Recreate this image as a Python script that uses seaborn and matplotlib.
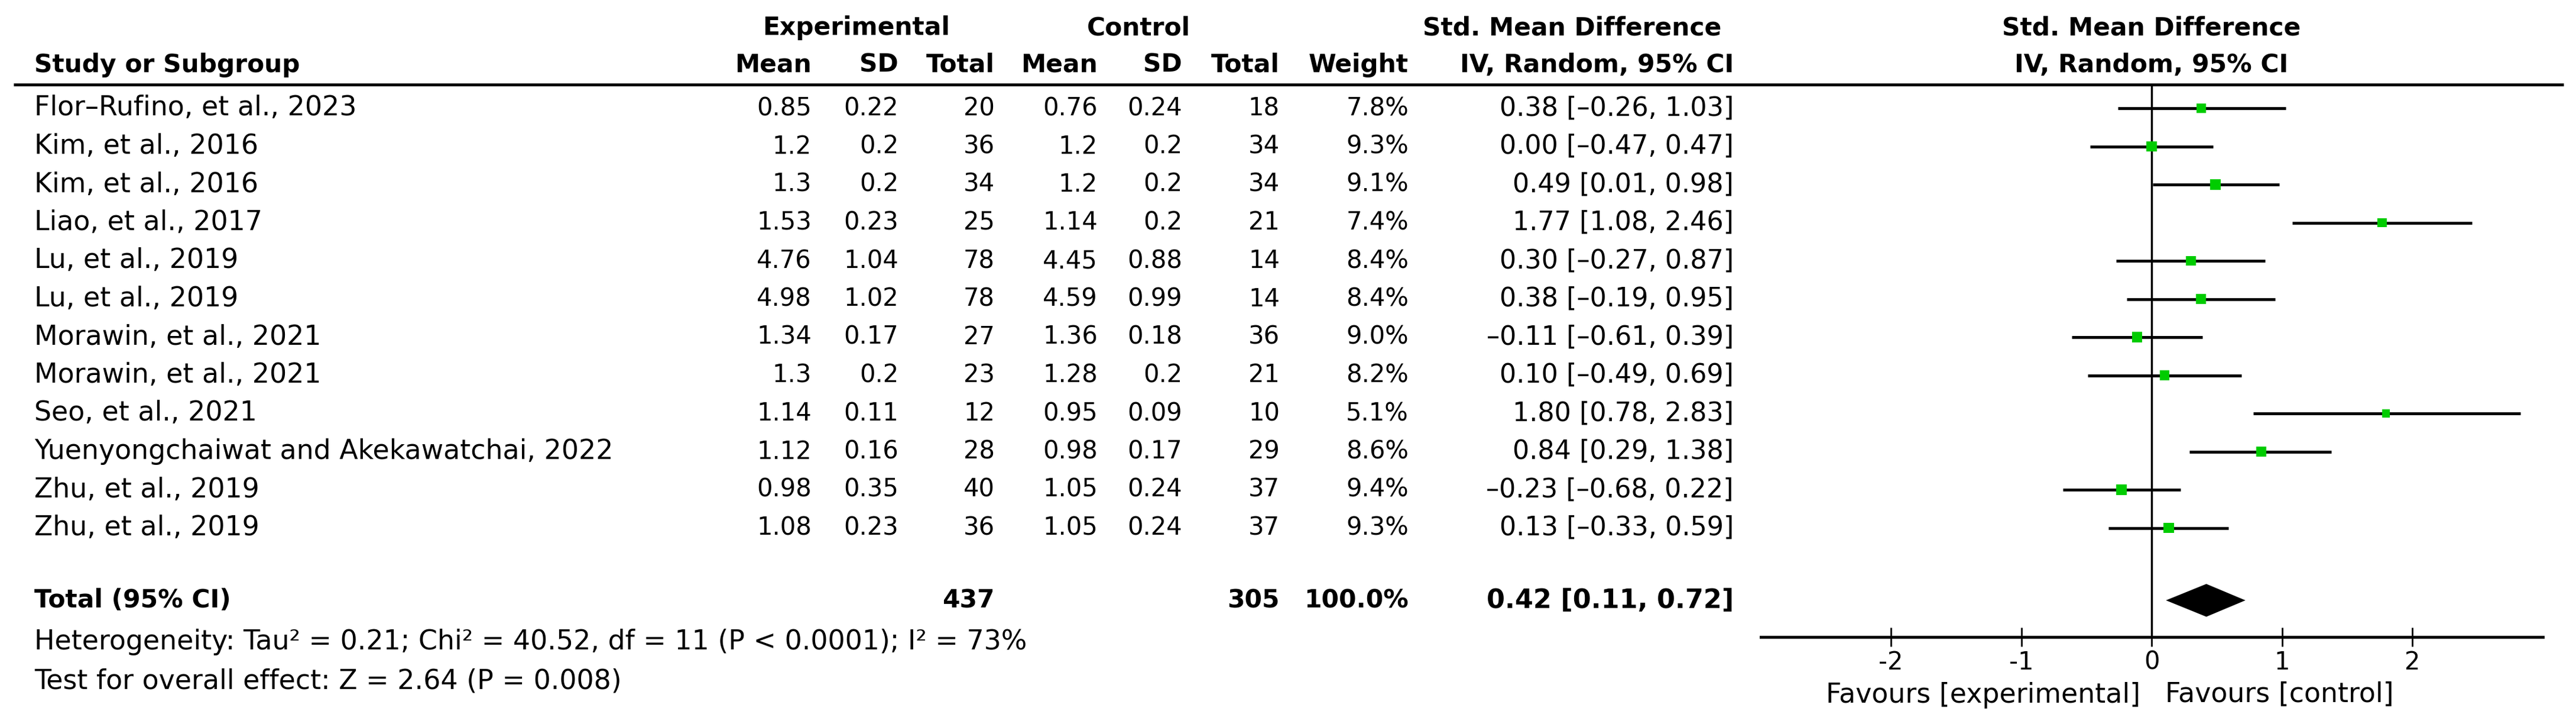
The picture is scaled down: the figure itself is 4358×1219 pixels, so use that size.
import matplotlib
matplotlib.use('Agg')
import matplotlib.pyplot as plt
import matplotlib.transforms as mtransforms
from matplotlib.lines import Line2D
import numpy as np
import pandas as pd
import seaborn as sns

# study rows
studies = ["Flor–Rufino, et al., 2023", "Kim, et al., 2016", "Kim, et al., 2016",
           "Liao, et al., 2017", "Lu, et al., 2019", "Lu, et al., 2019",
           "Morawin, et al., 2021", "Morawin, et al., 2021", "Seo, et al., 2021",
           "Yuenyongchaiwat and Akekawatchai, 2022", "Zhu, et al., 2019", "Zhu, et al., 2019"]
exp_mean = [0.85, 1.2, 1.3, 1.53, 4.76, 4.98, 1.34, 1.3, 1.14, 1.12, 0.98, 1.08]
exp_sd = [0.22, 0.2, 0.2, 0.23, 1.04, 1.02, 0.17, 0.2, 0.11, 0.16, 0.35, 0.23]
exp_n = [20, 36, 34, 25, 78, 78, 27, 23, 12, 28, 40, 36]
ctl_mean = [0.76, 1.2, 1.2, 1.14, 4.45, 4.59, 1.36, 1.28, 0.95, 0.98, 1.05, 1.05]
ctl_sd = [0.24, 0.2, 0.2, 0.2, 0.88, 0.99, 0.18, 0.2, 0.09, 0.17, 0.24, 0.24]
ctl_n = [18, 34, 34, 21, 14, 14, 36, 21, 10, 29, 37, 37]
weight = [7.8, 9.3, 9.1, 7.4, 8.4, 8.4, 9.0, 8.2, 5.1, 8.6, 9.4, 9.3]
smd = [0.38, 0.00, 0.49, 1.77, 0.30, 0.38, -0.11, 0.10, 1.80, 0.84, -0.23, 0.13]
ci_lo = [-0.26, -0.47, 0.01, 1.08, -0.27, -0.19, -0.61, -0.49, 0.78, 0.29, -0.68, -0.33]
ci_hi = [1.03, 0.47, 0.98, 2.46, 0.87, 0.95, 0.39, 0.69, 2.83, 1.38, 0.22, 0.59]

# pooled result
total_exp_n = 437
total_ctl_n = 305
total_weight = 100.0
total_smd = 0.42
total_lo = 0.11
total_hi = 0.72

heterogeneity = "Heterogeneity: Tau² = 0.21; Chi² = 40.52, df = 11 (P < 0.0001); I² = 73%"
overall = "Test for overall effect: Z = 2.64 (P = 0.008)"
ticks = [-2, -1, 0, 1, 2]

sns.set_theme(style='white')
plt.rcParams['font.family'] = ['DejaVu Sans']
plt.rcParams['axes.unicode_minus'] = False
plt.rcParams['text.color'] = 'black'

FS_TXT = 33    # study names and footnotes
FS_NUM = 30    # numeric columns
FS_CI = 32     # estimate [lo, hi]
FS_B = 30.5    # bold headers
W, H = 4358, 1219
ROW0, STEP = 183, 64.5


def row(px):
    return (px - ROW0) / STEP


def fmt(v):
    return f"{v:.2f}".replace('-', '–')


fig = plt.figure(figsize=(W / 100, H / 100), dpi=100)
ylim = (row(H), row(0))

# table part, x in pixels
split = 2950
ax_t = fig.add_axes([0, 0, split / W, 1])
ax_t.set_xlim(0, split)
ax_t.set_ylim(*ylim)
ax_t.axis('off')

# forest part, x in effect size units
zero_px, unit_px = 3640, 220.5
ax_f = fig.add_axes([split / W, 0, 1 - split / W, 1])
ax_f.patch.set_alpha(0)

# column right edges
c_name = 58
c_em, c_esd, c_en = 1373, 1520, 1683
c_cm, c_csd, c_cn = 1857, 2000, 2165
c_w, c_ci = 2383, 2933

hdr1, hdr2 = row(47), row(110)
bold = dict(fontsize=FS_B, fontweight='bold', va='center', color='black')
ax_t.text(1449, hdr1, "Experimental", ha='center', **bold)
ax_t.text(1926, hdr1, "Control", ha='center', **bold)
ax_t.text(2660, hdr1, "Std. Mean Difference", ha='center', **bold)
ax_t.text(c_name, hdr2, "Study or Subgroup", ha='left', **bold)
for x, lab in [(c_em, "Mean"), (c_esd, "SD"), (c_en, "Total"), (c_cm, "Mean"),
               (c_csd, "SD"), (c_cn, "Total"), (c_w, "Weight"), (c_ci, "IV, Random, 95% CI")]:
    ax_t.text(x, hdr2, lab, ha='right', **bold)

txt = dict(fontsize=FS_TXT, va='center', color='black')
num = dict(fontsize=FS_NUM, va='center', ha='right', color='black')
for i in range(len(studies)):
    ax_t.text(c_name, i, studies[i], ha='left', **txt)
    ax_t.text(c_em, i, f"{exp_mean[i]:g}", **num)
    ax_t.text(c_esd, i, f"{exp_sd[i]:g}", **num)
    ax_t.text(c_en, i, f"{exp_n[i]}", **num)
    ax_t.text(c_cm, i, f"{ctl_mean[i]:g}", **num)
    ax_t.text(c_csd, i, f"{ctl_sd[i]:g}", **num)
    ax_t.text(c_cn, i, f"{ctl_n[i]}", **num)
    ax_t.text(c_w, i, f"{weight[i]:.1f}%", **num)
    ax_t.text(c_ci, i, f"{fmt(smd[i])} [{fmt(ci_lo[i])}, {fmt(ci_hi[i])}]",
              fontsize=FS_CI, va='center', ha='right', color='black')

y_tot = row(1015)
ax_t.text(c_name, y_tot, "Total (95% CI)", ha='left', **bold)
ax_t.text(c_en, y_tot, f"{total_exp_n}", ha='right', **bold)
ax_t.text(c_cn, y_tot, f"{total_ctl_n}", ha='right', **bold)
ax_t.text(c_w, y_tot, f"{total_weight:.1f}%", ha='right', **bold)
ax_t.text(c_ci, y_tot, f"{fmt(total_smd)} [{fmt(total_lo)}, {fmt(total_hi)}]",
          ha='right', **dict(bold, fontsize=FS_CI))
ax_t.text(c_name, row(1085), heterogeneity, ha='left', **txt)
ax_t.text(c_name, row(1152), overall, ha='left', **txt)

# rule under the header, across the whole figure
trans = mtransforms.blended_transform_factory(fig.transFigure, ax_t.transData)
fig.add_artist(Line2D([23 / W, 4337 / W], [row(143), row(143)], transform=trans,
                      color='black', lw=3.6, solid_capstyle='butt'))

# forest plot
df = pd.DataFrame({'smd': smd, 'lo': ci_lo, 'hi': ci_hi, 'weight': weight,
                   'row': np.arange(len(studies))})
y_axis = row(1077)
ax_f.vlines(0, row(143), y_axis, color='black', lw=2.5, zorder=1)
ax_f.hlines(df['row'], df['lo'], df['hi'], color='black', lw=3.5, zorder=2)
sns.scatterplot(data=df, x='smd', y='row', size='weight', sizes=(17.5 * 5.1, 17.5 * 9.4),
                size_norm=(5.1, 9.4), marker='s', color='#00cc00', linewidth=0,
                legend=False, zorder=3, ax=ax_f)
dh = 0.43
ax_f.fill([total_lo, total_smd, total_hi, total_smd],
          [y_tot, y_tot - dh, y_tot, y_tot + dh], color='black', lw=0, zorder=3)

ax_f.set_xlim((split - zero_px) / unit_px, (W - zero_px) / unit_px)
ax_f.set_ylim(*ylim)
ax_f.set_xlabel('')
ax_f.set_ylabel('')
ax_f.set_yticks([])
ax_f.set_xticks(ticks)
ax_f.set_xticklabels([str(t) for t in ticks])
for s in ['top', 'right', 'left']:
    ax_f.spines[s].set_visible(False)
ax_f.spines['bottom'].set_position(('data', y_axis))
ax_f.spines['bottom'].set_bounds(-3, 3)
ax_f.spines['bottom'].set_linewidth(3.6)
ax_f.spines['bottom'].set_color('black')
ax_f.tick_params(axis='x', bottom=True, direction='inout', length=23, width=2.0,
                 colors='black', labelsize=FS_NUM, pad=4)

ax_f.text(0, hdr1, "Std. Mean Difference", ha='center', **bold)
ax_f.text(0, hdr2, "IV, Random, 95% CI", ha='center', **bold)
ax_f.text(-0.086, row(1175), "Favours [experimental]", ha='right', **txt)
ax_f.text(0.104, row(1175), "Favours [control]", ha='left', **txt)

fig.savefig('out.png', dpi=100, facecolor='white')
